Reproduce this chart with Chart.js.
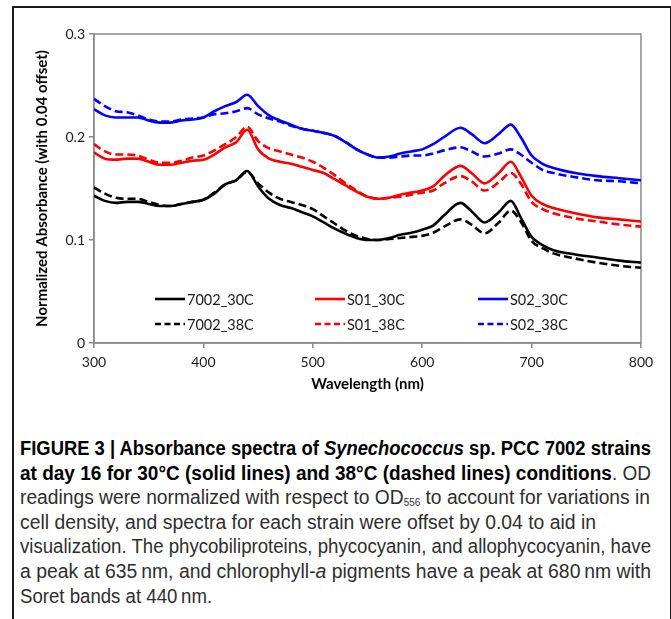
<!DOCTYPE html>
<html>
<head>
<meta charset="utf-8">
<script src="https://cdn.jsdelivr.net/npm/chart.js@4.4.1/dist/chart.umd.min.js"></script>
<style>
  html, body { margin: 0; padding: 0; background: #fff; }
  body { width: 671px; height: 619px; position: relative; overflow: hidden; }
  #frame { position: absolute; left: 12px; top: 6px; width: 656px; height: 700px;
           border: 2px solid #1a1a1a; border-bottom: none; }
  #wrap { position: absolute; left: 0; top: 0; width: 671px; height: 400px; }
  #caption { position: absolute; left: 20px; top: 436px; width: 650px;
             font-family: "Liberation Sans", Arial, sans-serif;
             font-size: 19.5px; line-height: 24.6px; color: #2e2e2e; }
  #caption .ln { height: 24.6px; white-space: nowrap; }
  #caption .ln > span { display: inline-block; transform-origin: 0 50%; }
  #caption b { color: #000; }
  #caption sub { font-size: 10px; vertical-align: -2px; line-height: 0; }
</style>
</head>
<body>
<div id="frame"></div>
<div id="wrap"><canvas id="c" width="671" height="400"></canvas></div>
<div id="caption">
<div class="ln" data-w="631"><span><b>FIGURE 3 | Absorbance spectra of <i>Synechococcus</i> sp. PCC 7002 strains</b></span></div>
<div class="ln" data-w="631"><span><b>at day 16 for 30°C (solid lines) and 38°C (dashed lines) conditions</b>. OD</span></div>
<div class="ln" data-w="630"><span>readings were normalized with respect to OD<sub>556</sub> to account for variations in</span></div>
<div class="ln" data-w="576"><span>cell density, and spectra for each strain were offset by 0.04 to aid in</span></div>
<div class="ln" data-w="631" id="refline"><span>visualization. The phycobiliproteins, phycocyanin, and allophycocyanin, have</span></div>
<div class="ln" data-w="631"><span>a peak at 635&#8201;nm, and chlorophyll-<i>a</i> pigments have a peak at 680&#8201;nm with</span></div>
<div class="ln" data-w="same"><span>Soret bands at 440&#8201;nm.</span></div>
</div>
<script>
const wavelengths = [300,310,320,330,340,350,360,370,380,390,400,410,420,430,440,450,460,470,480,490,500,510,520,530,540,550,560,570,580,590,600,610,620,635,645,657,670,681,690,700,710,720,740,760,780,800];

const s7002_30C = [0.143,0.138,0.136,0.137,0.137,0.135,0.133,0.133,0.135,0.137,0.139,0.145,0.154,0.158,0.167,0.152,0.140,0.134,0.131,0.127,0.123,0.117,0.111,0.106,0.102,0.100,0.100,0.102,0.105,0.107,0.110,0.114,0.124,0.136,0.128,0.117,0.127,0.138,0.122,0.103,0.095,0.090,0.086,0.083,0.080,0.078];
const s7002_38C = [0.151,0.145,0.141,0.140,0.140,0.137,0.134,0.133,0.135,0.137,0.139,0.146,0.154,0.158,0.166,0.155,0.146,0.140,0.137,0.134,0.130,0.123,0.116,0.109,0.104,0.101,0.100,0.101,0.102,0.103,0.104,0.107,0.113,0.120,0.115,0.1065,0.117,0.1285,0.118,0.099,0.092,0.087,0.082,0.078,0.075,0.073];
const sS01_30C = [0.185,0.179,0.178,0.179,0.179,0.176,0.173,0.173,0.175,0.177,0.178,0.183,0.190,0.195,0.207,0.188,0.179,0.176,0.174,0.171,0.168,0.165,0.159,0.153,0.147,0.142,0.140,0.141,0.144,0.146,0.148,0.152,0.162,0.172,0.165,0.155,0.165,0.176,0.162,0.143,0.135,0.131,0.126,0.122,0.120,0.118];
const sS01_38C = [0.193,0.186,0.183,0.183,0.182,0.178,0.175,0.175,0.177,0.180,0.182,0.187,0.193,0.200,0.210,0.196,0.189,0.186,0.183,0.180,0.176,0.170,0.163,0.155,0.148,0.142,0.140,0.141,0.142,0.144,0.146,0.148,0.155,0.162,0.157,0.148,0.156,0.165,0.155,0.137,0.130,0.126,0.121,0.118,0.115,0.113];
const sS02_30C = [0.227,0.221,0.219,0.219,0.219,0.216,0.214,0.214,0.216,0.217,0.219,0.225,0.230,0.234,0.241,0.230,0.221,0.216,0.212,0.208,0.206,0.204,0.201,0.195,0.188,0.183,0.180,0.181,0.184,0.186,0.188,0.193,0.200,0.209,0.203,0.194,0.203,0.212,0.200,0.182,0.174,0.170,0.165,0.162,0.160,0.158];
const sS02_38C = [0.237,0.230,0.225,0.224,0.221,0.217,0.215,0.215,0.217,0.218,0.219,0.222,0.223,0.225,0.228,0.222,0.218,0.215,0.211,0.208,0.206,0.204,0.201,0.195,0.188,0.183,0.180,0.180,0.181,0.182,0.182,0.184,0.187,0.190,0.186,0.181,0.184,0.188,0.183,0.175,0.168,0.165,0.161,0.158,0.157,0.155];

const seriesNames = ["7002_30C","S01_30C","S02_30C","7002_38C","S01_38C","S02_38C"];
const seriesValues = [s7002_30C, sS01_30C, sS02_30C, s7002_38C, sS01_38C, sS02_38C];
const xTicks = [300,400,500,600,700,800];
const yTicks = [0,0.1,0.2,0.3];

const colors = ["#000000","#ff0000","#0000ff","#000000","#ff0000","#0000ff"];
const dashed = [false,false,false,true,true,true];

const datasets = seriesNames.map((name, i) => ({
  label: name,
  data: wavelengths.map((w, k) => ({x: w, y: seriesValues[i][k]})),
  borderColor: colors[i],
  backgroundColor: colors[i],
  borderWidth: 2.6,
  borderDash: dashed[i] ? [8, 4] : [],
  pointRadius: 0,
  fill: false,
  cubicInterpolationMode: 'monotone'
}));

const FONT = "Lato, 'Open Sans', sans-serif";

const framePlugin = {
  id: 'plotFrame',
  beforeDatasetsDraw(chart) {
    const a = chart.chartArea, ctx = chart.ctx;
    ctx.save();
    ctx.strokeStyle = '#8a8a8a';
    ctx.lineWidth = 1.5;
    ctx.strokeRect(a.left, a.top, a.right - a.left, a.bottom - a.top);
    ctx.restore();
  }
};

const legendPlugin = {
  id: 'gridLegend',
  afterDraw(chart) {
    const a = chart.chartArea, ctx = chart.ctx;
    const colX = [61, 221, 384];
    const rowY = [44, 19];
    ctx.save();
    chart.data.datasets.forEach((ds, i) => {
      const col = i % 3, row = Math.floor(i / 3);
      const x0 = a.left + colX[col];
      const y0 = a.bottom - rowY[row];
      ctx.beginPath();
      ctx.strokeStyle = ds.borderColor;
      ctx.lineWidth = 2.6;
      ctx.setLineDash(ds.borderDash && ds.borderDash.length ? [6, 3.5] : []);
      ctx.moveTo(x0, y0);
      ctx.lineTo(x0 + 30, y0);
      ctx.stroke();
      ctx.setLineDash([]);
      ctx.fillStyle = '#1a1a1a';
      ctx.font = "14.5px " + FONT;
      ctx.textBaseline = 'middle';
      ctx.textAlign = 'left';
      ctx.fillText(ds.label, x0 + 32, y0 + 1);
    });
    ctx.restore();
  }
};

new Chart(document.getElementById('c'), {
  type: 'line',
  data: { datasets },
  options: {
    responsive: false,
    animation: false,
    events: [],
    layout: { padding: { left: 24, right: 30, top: 34, bottom: 7 } },
    plugins: { legend: { display: false }, tooltip: { enabled: false } },
    scales: {
      x: {
        type: 'linear', min: 300, max: 800,
        afterBuildTicks(s) { s.ticks = xTicks.map(v => ({value: v})); },
        afterFit(s) { s.height = 50; },
        grid: { drawOnChartArea: false, tickLength: 5, color: '#8a8a8a', lineWidth: 1.5 },
        border: { color: '#8a8a8a', width: 1.5 },
        ticks: { color: '#1a1a1a', font: { family: FONT, size: 14 }, padding: 6, maxRotation: 0 },
        title: { display: true, text: 'Wavelength (nm)', color: '#000',
                 font: { family: FONT, size: 15, weight: 'bold' }, padding: { top: 4, bottom: 0 } }
      },
      y: {
        type: 'linear', min: 0, max: 0.3,
        afterBuildTicks(s) { s.ticks = yTicks.map(v => ({value: v})); },
        afterFit(s) { s.width = 70; },
        grid: { drawOnChartArea: false, tickLength: 5, color: '#8a8a8a', lineWidth: 1.5 },
        border: { color: '#8a8a8a', width: 1.5 },
        ticks: { color: '#1a1a1a', font: { family: FONT, size: 14 }, padding: 4,
                 callback: v => v === 0 ? '0' : v.toFixed(1) },
        title: { display: true, text: 'Normalized Absorbance (with 0.04 offset)', color: '#000',
                 font: { family: FONT, size: 15, weight: 'bold' }, padding: { top: 9, bottom: 0 } }
      }
    }
  },
  plugins: [framePlugin, legendPlugin]
});

function fitCaption() {
  let refScale = 1;
  const lines = Array.from(document.querySelectorAll('#caption .ln'));
  lines.forEach(ln => { ln.firstElementChild.style.transform = 'none'; });
  const rl = document.getElementById('refline');
  const rw = rl.firstElementChild.getBoundingClientRect().width;
  if (rw > 0) refScale = parseFloat(rl.dataset.w) / rw;
  lines.forEach(ln => {
    const sp = ln.firstElementChild;
    const w = sp.getBoundingClientRect().width;
    let s = refScale;
    if (ln.dataset.w !== 'same' && w > 0) s = parseFloat(ln.dataset.w) / w;
    sp.style.transform = 'scaleX(' + s + ')';
  });
}
fitCaption();
if (document.fonts && document.fonts.ready) document.fonts.ready.then(fitCaption);
</script>
</body>
</html>
